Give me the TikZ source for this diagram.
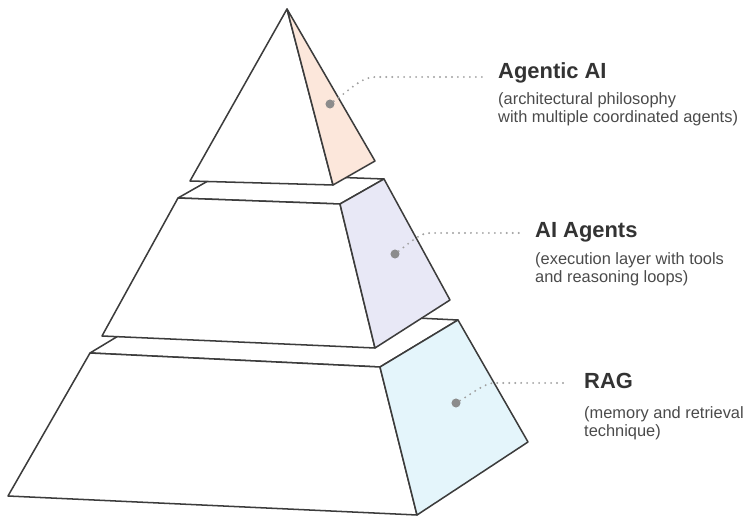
\documentclass[tikz,border=0pt]{standalone}
\usepackage{fontspec}
\setmainfont{Liberation Sans}
\usepackage{tikz}
\definecolor{edgegray}{HTML}{3C3C3C}
\definecolor{dotgray}{HTML}{8C8C8C}
\definecolor{leadgray}{HTML}{A0A0A0}
\definecolor{titlegray}{HTML}{333333}
\definecolor{subgray}{HTML}{4A4A4A}
\definecolor{peach}{HTML}{FCE7DB}
\definecolor{lavender}{HTML}{E8E8F6}
\definecolor{icecyan}{HTML}{E4F5FB}
\tikzstyle{face}=[draw=edgegray,line width=1.3pt,line join=round,fill=white]
\tikzstyle{marker}=[circle,fill=dotgray,inner sep=0pt,minimum size=7.7pt]
\tikzstyle{leader}=[draw=leadgray,line width=1.8pt,dash pattern=on 0pt off 5.1pt,line cap=round]
\tikzstyle{title}=[anchor=base west,inner sep=0pt,text=titlegray,font=\fontsize{18.7}{22}\selectfont\bfseries]
\tikzstyle{subtext}=[anchor=base west,inner sep=0pt,align=left,text=subgray,font=\fontsize{14}{15.4}\selectfont]

\begin{document}
\begin{tikzpicture}[x=0.03cm,y=-0.03cm]
    \useasboundingbox (0,0) rectangle (744,517);

    % Ecken
    \coordinate (apex) at (287,9);
    \coordinate (tFL) at (190,181);
    \coordinate (tFR) at (333,185);
    \coordinate (tBR) at (375,161);
    \coordinate (mTFL) at (178,198);
    \coordinate (mTFR) at (340,204);
    \coordinate (mTBR) at (384,179);
    \coordinate (mTBL) at (222,173);
    \coordinate (mBFL) at (102,336);
    \coordinate (mBFR) at (375,348);
    \coordinate (mBBR) at (450,300);
    \coordinate (bTFL) at (90,353);
    \coordinate (bTFR) at (380,367);
    \coordinate (bTBR) at (458,320);
    \coordinate (bTBL) at (168,306);
    \coordinate (bBFL) at (8,496);
    \coordinate (bBFR) at (417,515);
    \coordinate (bBBR) at (528,442);

    % RAG
    \draw[face] (bTFL) -- (bTFR) -- (bTBR) -- (bTBL) -- cycle;
    \draw[face] (bTFL) -- (bTFR) -- (bBFR) -- (bBFL) -- cycle;
    \draw[face,fill=icecyan] (bTFR) -- (bTBR) -- (bBBR) -- (bBFR) -- cycle;

    % AI Agents
    \draw[face] (mTFL) -- (mTFR) -- (mTBR) -- (mTBL) -- cycle;
    \draw[face] (mTFL) -- (mTFR) -- (mBFR) -- (mBFL) -- cycle;
    \draw[face,fill=lavender] (mTFR) -- (mTBR) -- (mBBR) -- (mBFR) -- cycle;

    % Agentic AI
    \draw[face] (apex) -- (tFL) -- (tFR) -- cycle;
    \draw[face,fill=peach] (apex) -- (tFR) -- (tBR) -- cycle;

    % Beschriftung
    \node[marker] (dotA) at (330,104) {};
    \node[marker] (dotB) at (395,254) {};
    \node[marker] (dotC) at (456,403) {};
    \coordinate (bendA) at (375,77);
    \coordinate (bendB) at (430,233);
    \coordinate (bendC) at (495,383);
    \coordinate (endA) at (483,77);
    \coordinate (endB) at (520,233);
    \coordinate (endC) at (567,383);

    \node[title] (titleA) at (498,79) {Agentic AI};
    \node[subtext] (subA) at (498,123) {(architectural philosophy\\with multiple coordinated agents)};
    \node[title] (titleB) at (535,238) {AI Agents};
    \node[subtext] (subB) at (535,283) {(execution layer with tools\\and reasoning loops)};
    \node[title] (titleC) at (584,389) {RAG};
    \node[subtext] (subC) at (584,437) {(memory and retrieval\\technique)};

    \draw[leader] (dotA) .. controls (352,88) and (362,77) .. (bendA) -- (endA);
    \draw[leader] (dotB) .. controls (412,241) and (420,233) .. (bendB) -- (endB);
    \draw[leader] (dotC) .. controls (476,391) and (485,383) .. (bendC) -- (endC);

\end{tikzpicture}
\end{document}
